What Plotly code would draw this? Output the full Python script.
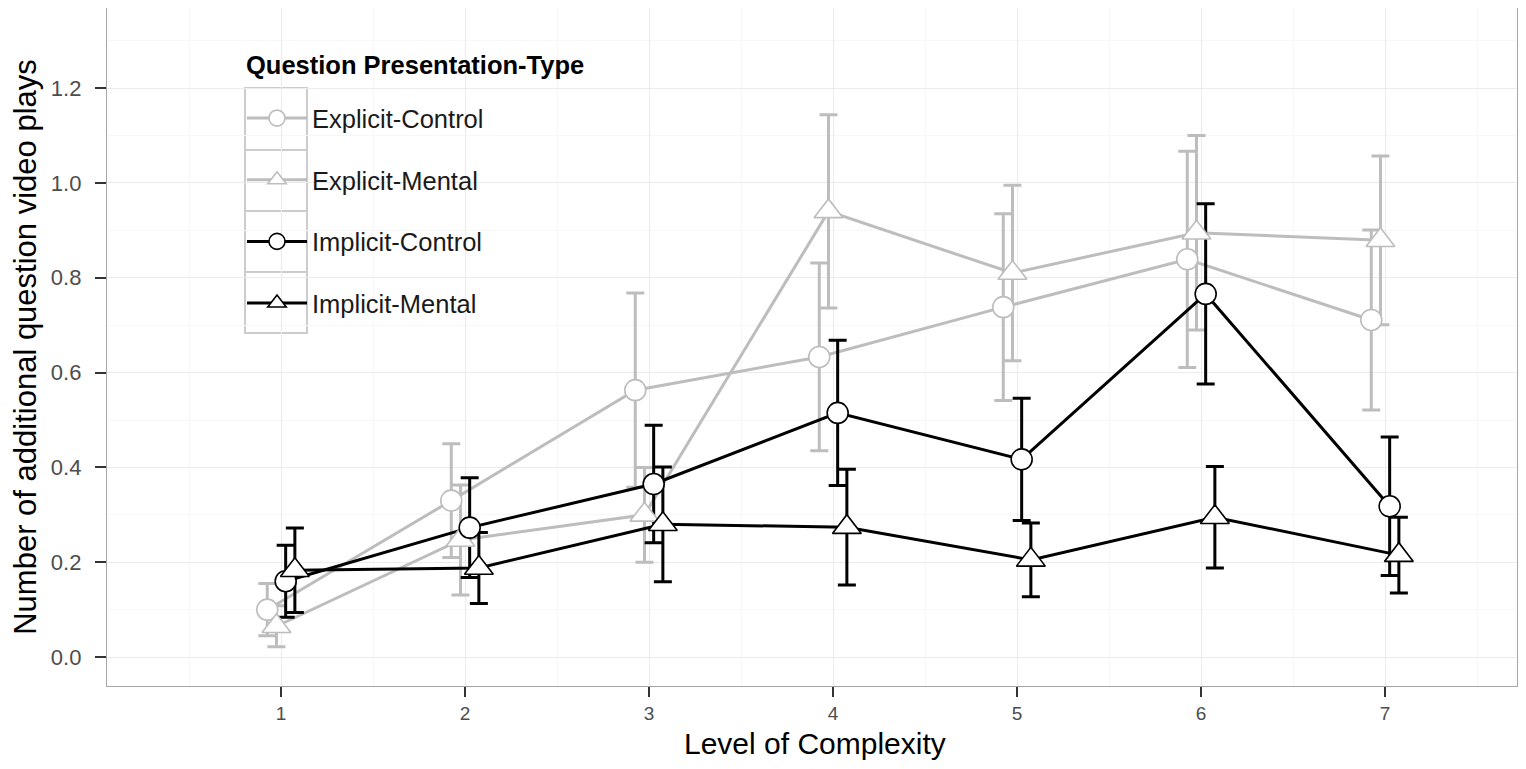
import plotly.graph_objects as go

levels = [1, 2, 3, 4, 5, 6, 7]
series_names = ["Explicit-Control", "Explicit-Mental", "Implicit-Control", "Implicit-Mental"]
ec_mean = [0.100, 0.330, 0.563, 0.633, 0.738, 0.839, 0.711]
ec_err = [0.055, 0.120, 0.205, 0.198, 0.197, 0.228, 0.190]
em_mean = [0.065, 0.247, 0.300, 0.940, 0.810, 0.895, 0.879]
em_err = [0.043, 0.116, 0.100, 0.204, 0.185, 0.205, 0.178]
ic_mean = [0.160, 0.273, 0.365, 0.515, 0.417, 0.766, 0.318]
ic_err = [0.076, 0.105, 0.124, 0.153, 0.129, 0.190, 0.146]
im_mean = [0.183, 0.188, 0.280, 0.274, 0.205, 0.295, 0.215]
im_err = [0.089, 0.075, 0.121, 0.122, 0.078, 0.107, 0.080]
y_ticks = [0.0, 0.2, 0.4, 0.6, 0.8, 1.0, 1.2]
y_ticklabels = ["0.0", "0.2", "0.4", "0.6", "0.8", "1.0", "1.2"]

means = [ec_mean, em_mean, ic_mean, im_mean]
errs = [ec_err, em_err, ic_err, im_err]

GRAY = "#BDBDBD"
colors = [GRAY, GRAY, "#000000", "#000000"]
symbols = ["circle", "triangle-up", "circle", "triangle-up"]
msizes = [21, 25, 21, 25]
dodge = [-0.075, -0.025, 0.025, 0.075]

FONT = "Liberation Sans, Arial, sans-serif"

# The page body has an 8px margin; the figure is sized so that it fits the window.
OFF = 8
W, H = 1526 - 2 * OFF, 769 - 2 * OFF

fig = go.Figure()

# error bars + lines
for name, m, e, c, d in zip(series_names, means, errs, colors, dodge):
    xs = [l + d for l in levels]
    fig.add_trace(go.Scatter(
        x=xs, y=m, mode="lines", name=name, showlegend=False,
        line=dict(color=c, width=3),
        error_y=dict(type="data", array=e, visible=True, color=c, thickness=3, width=9),
        hoverinfo="skip",
    ))

# points on top
for name, m, c, s, ms, d in zip(series_names, means, colors, symbols, msizes, dodge):
    xs = [l + d for l in levels]
    fig.add_trace(go.Scatter(
        x=xs, y=m, mode="markers", name=name, showlegend=False,
        marker=dict(symbol=s, size=ms, color="white", line=dict(color=c, width=1.6)),
    ))

# legend entries
for i, (name, c, s, ms) in enumerate(zip(series_names, colors, symbols, msizes)):
    fig.add_trace(go.Scatter(
        x=[None], y=[None], mode="lines+markers", name=name, legendgroup=f"g{i}",
        line=dict(color=c, width=3),
        marker=dict(symbol=s, size=ms, color="white", line=dict(color=c, width=1.6)),
    ))

# plot area in screen px: left 107, right 1517, top 8, bottom 686
PX0, PX1, PY0, PY1 = 107, 1517, 8, 686
def px(xp):
    return (xp - PX0) / (PX1 - PX0)
def py(yp):
    return (PY1 - yp) / (PY1 - PY0)

shapes = [dict(type="rect", xref="paper", yref="paper", layer="between",
               x0=px(230), x1=px(598), y0=py(345), y1=py(40),
               fillcolor="white", line=dict(width=0))]
key_edges = [88, 150, 211, 272, 333]
for a, b in zip(key_edges[:-1], key_edges[1:]):
    shapes.append(dict(type="rect", xref="paper", yref="paper", layer="between",
                       x0=px(245), x1=px(307), y0=py(b), y1=py(a),
                       fillcolor="white", line=dict(color="#CCCCCC", width=2)))

fig.update_layout(
    width=W, height=H,
    margin=dict(l=PX0 - OFF, r=W - (PX1 - OFF), t=PY0 - OFF, b=H - (PY1 - OFF)),
    paper_bgcolor="white", plot_bgcolor="white",
    font=dict(family=FONT, color="#000000"),
    shapes=shapes,
    annotations=[
        dict(text="<b>Question Presentation-Type</b>", xref="paper", yref="paper",
             x=px(244), y=py(65), xanchor="left", yanchor="middle", showarrow=False,
             font=dict(size=25.5, family=FONT, color="#000000")),
        dict(text="Level of Complexity", xref="paper", yref="paper",
             x=px(815), y=py(761), xanchor="center", yanchor="bottom", showarrow=False,
             borderpad=0,
             font=dict(size=30, family=FONT, color="#000000")),
    ],
    legend=dict(
        x=px(242), y=py(95), xanchor="left", yanchor="top",
        bgcolor="rgba(0,0,0,0)", borderwidth=0,
        font=dict(size=25.5, family=FONT, color="#1a1a1a"),
        traceorder="grouped", tracegroupgap=25.5, itemwidth=60,
    ),
    xaxis=dict(
        range=[0.054, 7.717], tickmode="array", tickvals=levels,
        ticktext=[str(l) for l in levels], automargin=False,
        showgrid=True, gridcolor="#EBEBEB", gridwidth=1.3,
        minor=dict(dtick=0.5, tick0=0.5, showgrid=True, gridcolor="#F7F7F7", gridwidth=1, ticks=""),
        zeroline=False, showline=True, mirror=True, linecolor="#A6A6A6", linewidth=1.3,
        ticks="outside", ticklen=10, tickcolor="#333333", tickwidth=2,
        tickfont=dict(size=19, family=FONT, color="#4D4D4D"),
        ticklabelstandoff=0,
    ),
    yaxis=dict(
        range=[-0.061, 1.369], tickmode="array", automargin=False,
        tickvals=y_ticks, ticktext=y_ticklabels,
        showgrid=True, gridcolor="#EBEBEB", gridwidth=1.3,
        minor=dict(dtick=0.1, tick0=0.1, showgrid=True, gridcolor="#F7F7F7", gridwidth=1, ticks=""),
        zeroline=False, showline=True, mirror=True, linecolor="#A6A6A6", linewidth=1.3,
        ticks="outside", ticklen=11, tickcolor="#333333", tickwidth=2,
        tickfont=dict(size=22, family=FONT, color="#4D4D4D"),
        ticklabelstandoff=9,
        title=dict(text="Number of additional question video plays", font=dict(size=31, family=FONT), standoff=5),
    ),
)

fig.write_html("out.html")
